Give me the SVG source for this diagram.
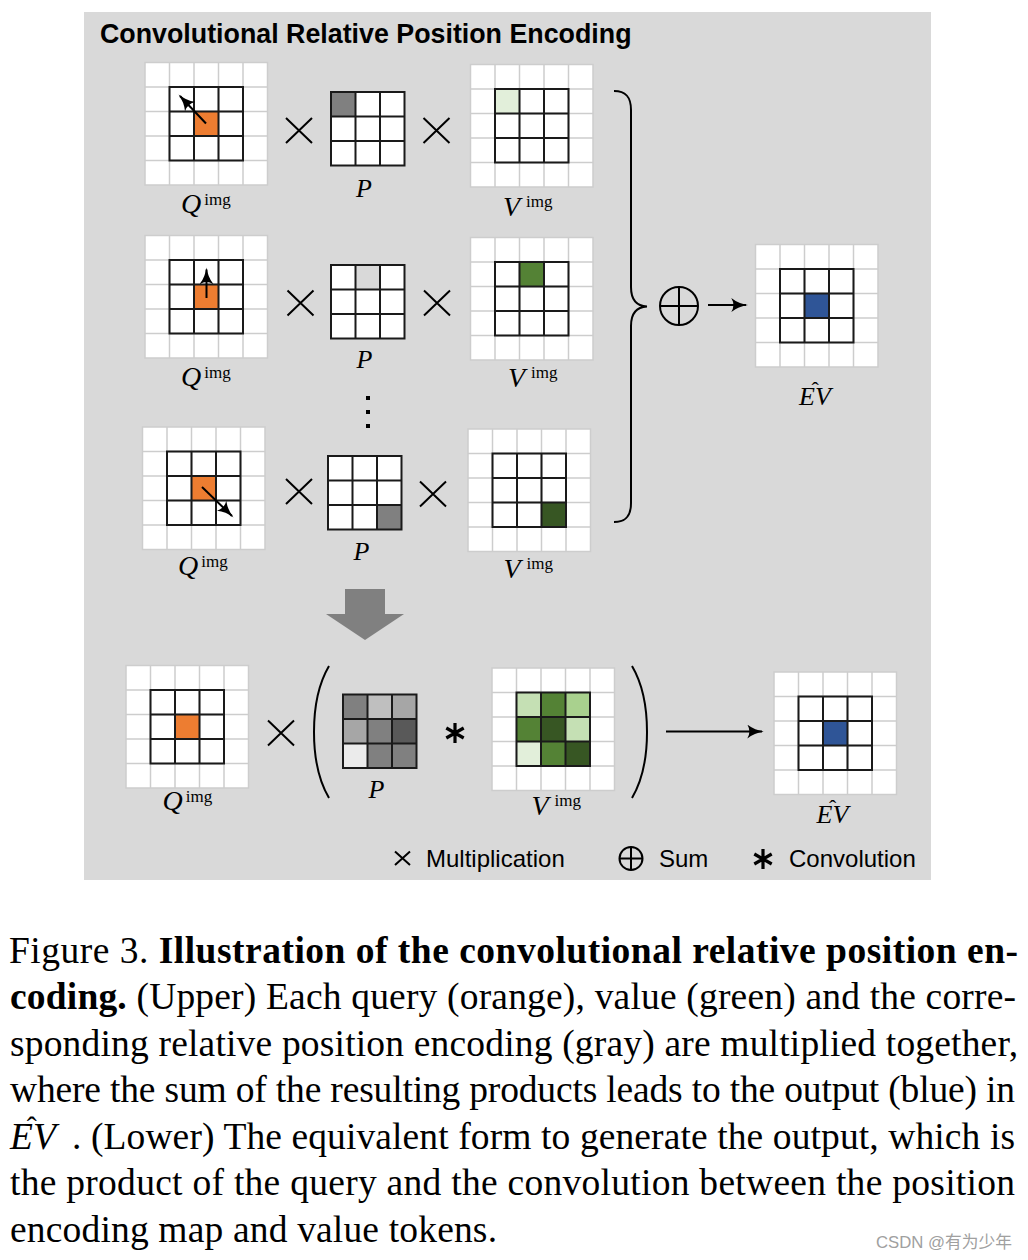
<svg xmlns="http://www.w3.org/2000/svg" xmlns:xlink="http://www.w3.org/1999/xlink" width="1028" height="1260" viewBox="0 0 1028 1260">
<style>
.ol{stroke:#cdcdcd;stroke-width:1.5;fill:none}
.il{stroke:#1a1a1a;stroke-width:2;fill:none}
.op{stroke:#000;stroke-width:2;fill:none}
.ln{stroke:#000;stroke-width:2;fill:none}
.m{font-family:"Liberation Serif","Times New Roman",serif;font-style:italic;font-size:26px;fill:#000}
.mq{font-size:28px}
.sup{font-style:normal;font-size:17px}
.hat{font-style:normal;font-size:22px}
.cap{font-family:"Liberation Serif","Times New Roman",serif;font-size:37.5px;fill:#000}
.lg{font-family:"Liberation Sans",Arial,sans-serif;font-size:24px;fill:#000}
.ttl{font-family:"Liberation Sans",Arial,sans-serif;font-size:26.8px;font-weight:bold;fill:#000}
</style>
<defs>
<g id="g5"><rect width="122.5" height="122.5" fill="#fff"/><path class="ol" d="M24.5 0V122.5M49 0V122.5M73.5 0V122.5M98 0V122.5M0 24.5H122.5M0 49H122.5M0 73.5H122.5M0 98H122.5"/><rect class="ol" width="122.5" height="122.5"/></g>
<g id="g3"><rect class="il" width="73.5" height="73.5"/><path class="il" d="M24.5 0V73.5M49 0V73.5M0 24.5H73.5M0 49H73.5"/></g>
<rect id="w3" width="73.5" height="73.5" fill="#fff"/>
<path id="mul" class="op" d="M-13 -12.5L13 12.5M13 -12.5L-13 12.5"/>
<path id="star" d="M0 -10V10M-8.7 -5L8.7 5M-8.7 5L8.7 -5" stroke="#000" stroke-width="3.2" fill="none"/>
<marker id="ah" viewBox="0 0 12 10" refX="10.5" refY="5" markerWidth="17" markerHeight="14" orient="auto" markerUnits="userSpaceOnUse"><path d="M0 0Q5 4 12 5Q5 6 0 10Q3 5 0 0Z" fill="#000"/></marker>
</defs>

<rect x="84" y="12" width="847" height="868" fill="#d9d9d9"/>
<text class="ttl" x="100" y="43">Convolutional Relative Position Encoding</text>

<!-- Row 1 -->
<g id="q1">
<use xlink:href="#g5" x="145" y="62.5"/>
<rect x="194" y="111.5" width="24.5" height="24.5" fill="#ed7d31"/>
<use xlink:href="#g3" x="169.5" y="87"/>
<line class="ln" x1="206" y1="123.5" x2="180" y2="96" marker-end="url(#ah)"/>
<text class="m mq" x="181" y="213">Q<tspan class="sup" dx="3" dy="-8">img</tspan></text>
</g>
<g id="p1">
<use xlink:href="#w3" x="331" y="92"/>
<rect x="331" y="92" width="24.5" height="24.5" fill="#808080"/>
<use xlink:href="#g3" x="331" y="92"/>
<text class="m" x="356" y="197">P</text>
</g>
<g id="v1">
<use xlink:href="#g5" x="470.5" y="64.5"/>
<rect x="495" y="89" width="24.5" height="24.5" fill="#e2efda"/>
<use xlink:href="#g3" x="495" y="89"/>
<text class="m mq" x="503" y="215.5">V<tspan class="sup" dx="6" dy="-9">img</tspan></text>
</g>
<g id="x1a"><use xlink:href="#mul" x="299" y="130.5"/></g>
<g id="x1b"><use xlink:href="#mul" x="436.5" y="130.5"/></g>

<!-- Row 2 -->
<g id="q2">
<use xlink:href="#g5" x="145" y="235.5"/>
<rect x="194" y="284.5" width="24.5" height="24.5" fill="#ed7d31"/>
<use xlink:href="#g3" x="169.5" y="260"/>
<line class="ln" x1="206.5" y1="298" x2="206.5" y2="269.5" marker-end="url(#ah)"/>
<text class="m mq" x="181" y="386">Q<tspan class="sup" dx="3" dy="-8">img</tspan></text>
</g>
<g id="p2">
<use xlink:href="#w3" x="331" y="265"/>
<rect x="355.5" y="265" width="24.5" height="24.5" fill="#d9d9d9"/>
<use xlink:href="#g3" x="331" y="265"/>
<text class="m" x="356.5" y="368">P</text>
</g>
<g id="v2">
<use xlink:href="#g5" x="470.5" y="237.5"/>
<rect x="519.5" y="262" width="24.5" height="24.5" fill="#548235"/>
<use xlink:href="#g3" x="495" y="262"/>
<text class="m mq" x="508" y="387">V<tspan class="sup" dx="6" dy="-9">img</tspan></text>
</g>
<g id="x2a"><use xlink:href="#mul" x="300.5" y="303"/></g>
<g id="x2b"><use xlink:href="#mul" x="437" y="303"/></g>

<g id="dots" fill="#000">
<rect x="366" y="396" width="4" height="4"/>
<rect x="366" y="410" width="4" height="4"/>
<rect x="366" y="424" width="4" height="4"/>
</g>

<!-- Row 3 -->
<g id="q3">
<use xlink:href="#g5" x="142.5" y="427"/>
<rect x="191.5" y="476" width="24.5" height="24.5" fill="#ed7d31"/>
<use xlink:href="#g3" x="167" y="451.5"/>
<line class="ln" x1="202" y1="487" x2="232" y2="516" marker-end="url(#ah)"/>
<text class="m mq" x="178" y="575">Q<tspan class="sup" dx="3" dy="-8">img</tspan></text>
</g>
<g id="p3">
<use xlink:href="#w3" x="328" y="456"/>
<rect x="377" y="505" width="24.5" height="24.5" fill="#808080"/>
<use xlink:href="#g3" x="328" y="456"/>
<text class="m" x="353.5" y="560">P</text>
</g>
<g id="v3">
<use xlink:href="#g5" x="468" y="429"/>
<rect x="541.5" y="502.5" width="24.5" height="24.5" fill="#375623"/>
<use xlink:href="#g3" x="492.5" y="453.5"/>
<text class="m mq" x="503.5" y="578">V<tspan class="sup" dx="6" dy="-9">img</tspan></text>
</g>
<g id="x3a"><use xlink:href="#mul" x="299" y="491.5"/></g>
<g id="x3b"><use xlink:href="#mul" x="433" y="494"/></g>

<!-- Sum and output -->
<g id="sum">
<circle cx="679" cy="306" r="19" class="op" stroke-width="1.8"/>
<path class="op" stroke-width="1.8" d="M660 306H698M679 287V325"/>
</g>
<g id="out1">
<use xlink:href="#g5" x="755.5" y="244.5"/>
<rect x="804.5" y="293.5" width="24.5" height="24.5" fill="#2f5597"/>
<use xlink:href="#g3" x="780" y="269"/>
<text class="m" x="799" y="405" font-size="27">E<tspan class="hat" dx="-3.5" dy="-8">ˆ</tspan><tspan dx="-3.8" dy="8">V</tspan></text>
</g>

<!-- Lower -->
<g id="q4">
<use xlink:href="#g5" x="126" y="665.5"/>
<rect x="175" y="714.5" width="24.5" height="24.5" fill="#ed7d31"/>
<use xlink:href="#g3" x="150.5" y="690"/>
<text class="m mq" x="162.5" y="810">Q<tspan class="sup" dx="3" dy="-8">img</tspan></text>
</g>
<g id="x4"><use xlink:href="#mul" x="281" y="733"/></g>
<g id="p4">
<rect x="343" y="694.5" width="24.5" height="24.5" fill="#808080"/>
<rect x="367.5" y="694.5" width="24.5" height="24.5" fill="#bfbfbf"/>
<rect x="392" y="694.5" width="24.5" height="24.5" fill="#a6a6a6"/>
<rect x="343" y="719" width="24.5" height="24.5" fill="#a6a6a6"/>
<rect x="367.5" y="719" width="24.5" height="24.5" fill="#808080"/>
<rect x="392" y="719" width="24.5" height="24.5" fill="#595959"/>
<rect x="343" y="743.5" width="24.5" height="24.5" fill="#ebebeb"/>
<rect x="367.5" y="743.5" width="24.5" height="24.5" fill="#808080"/>
<rect x="392" y="743.5" width="24.5" height="24.5" fill="#808080"/>
<use xlink:href="#g3" x="343" y="694.5"/>
<text class="m" x="368.5" y="798">P</text>
</g>
<g id="conv"><use xlink:href="#star" x="455" y="733"/></g>
<g id="v4">
<use xlink:href="#g5" x="492" y="668"/>
<rect x="516.5" y="692.5" width="24.5" height="24.5" fill="#c5e0b4"/>
<rect x="541" y="692.5" width="24.5" height="24.5" fill="#548235"/>
<rect x="565.5" y="692.5" width="24.5" height="24.5" fill="#a9d18e"/>
<rect x="516.5" y="717" width="24.5" height="24.5" fill="#548235"/>
<rect x="541" y="717" width="24.5" height="24.5" fill="#375623"/>
<rect x="565.5" y="717" width="24.5" height="24.5" fill="#c5e0b4"/>
<rect x="516.5" y="741.5" width="24.5" height="24.5" fill="#e2efda"/>
<rect x="541" y="741.5" width="24.5" height="24.5" fill="#548235"/>
<rect x="565.5" y="741.5" width="24.5" height="24.5" fill="#375623"/>
<use xlink:href="#g3" x="516.5" y="692.5"/>
<text class="m mq" x="531.5" y="815">V<tspan class="sup" dx="6" dy="-9">img</tspan></text>
</g>
<g id="out2">
<use xlink:href="#g5" x="774" y="672"/>
<rect x="823" y="721" width="24.5" height="24.5" fill="#2f5597"/>
<use xlink:href="#g3" x="798.5" y="696.5"/>
<text class="m" x="816.5" y="823" font-size="27">E<tspan class="hat" dx="-3.5" dy="-8">ˆ</tspan><tspan dx="-3.8" dy="8">V</tspan></text>
</g>

<!-- Connectors -->
<g id="connectors">
<path class="ln" d="M614 91C626 91 631 97 631 110L631 287C631 299 636 306 647 306.5C636 307 631 314 631 326L631 503C631 516 626 522 614 522"/>
<line class="ln" x1="708" y1="305" x2="746" y2="305" marker-end="url(#ah)"/>
<polygon points="345,589 385,589 385,614 404,614 365,640 326,614 345,614" fill="#808080"/>
<path class="ln" d="M329 666C309 700 309 764 329 798"/>
<path class="ln" d="M632 666C652 700 652 764 632 798"/>
<line class="ln" x1="666" y1="731.5" x2="762" y2="731.5" marker-end="url(#ah)"/>
</g>

<!-- Legend -->
<g id="legend">
<path class="op" stroke-width="1.8" d="M395 851.5L410 865M410 851.5L395 865"/>
<text class="lg" x="426" y="867">Multiplication</text>
<circle cx="631" cy="858.5" r="11.5" class="op" stroke-width="1.6"/>
<path class="op" stroke-width="1.6" d="M619.5 858.5H642.5M631 847V870"/>
<text class="lg" x="659" y="867">Sum</text>
<use xlink:href="#star" x="763" y="859"/>
<text class="lg" x="789" y="867">Convolution</text>
</g>

<!-- Caption -->
<g id="caption">
<text class="cap" x="9" y="962.5" textLength="1009" lengthAdjust="spacing">Figure 3. <tspan font-weight="bold">Illustration of the convolutional relative position en-</tspan></text>
<text class="cap" x="10" y="1009" textLength="1006" lengthAdjust="spacing"><tspan font-weight="bold">coding.</tspan> (Upper) Each query (orange), value (green) and the corre-</text>
<text class="cap" x="10" y="1055.5" textLength="1008" lengthAdjust="spacing">sponding relative position encoding (gray) are multiplied together,</text>
<text class="cap" x="10" y="1102" textLength="1005" lengthAdjust="spacing">where the sum of the resulting products leads to the output (blue) in</text>
<text class="cap" x="10" y="1148.5" font-style="italic">E<tspan font-style="normal" font-size="30" dx="-6.2" dy="-11.5">ˆ</tspan><tspan dx="-3.8" dy="11.5">V</tspan></text>
<text class="cap" x="72" y="1148.5" textLength="943" lengthAdjust="spacing">. (Lower) The equivalent form to generate the output, which is</text>
<text class="cap" x="10" y="1195" textLength="1005" lengthAdjust="spacing">the product of the query and the convolution between the position</text>
<text class="cap" x="10" y="1241.5" textLength="487" lengthAdjust="spacing">encoding map and value tokens.</text>
</g>
<text x="876" y="1248" textLength="136" lengthAdjust="spacingAndGlyphs" font-family="Liberation Sans,Noto Sans CJK SC,sans-serif" font-size="17" fill="#a0a0a0">CSDN @有为少年</text>
</svg>
